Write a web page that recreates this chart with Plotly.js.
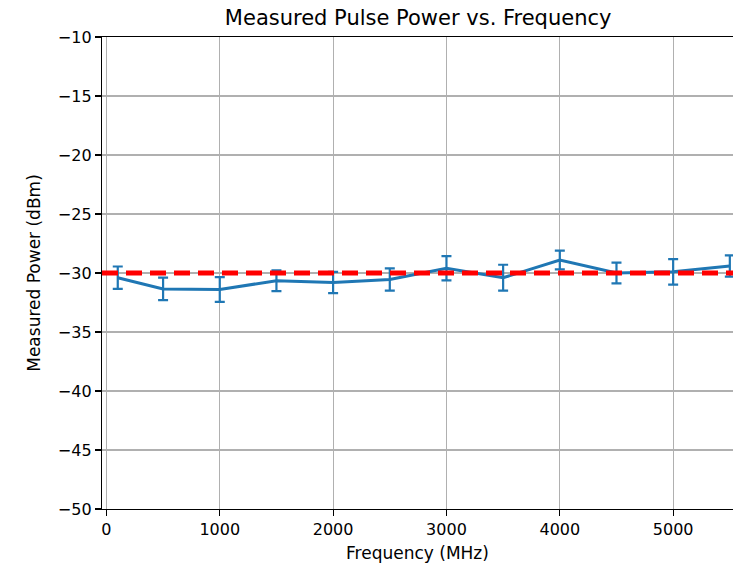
<!DOCTYPE html>
<html>
<head>
<meta charset="utf-8">
<script src="https://cdn.plot.ly/plotly-3.0.1.min.js"></script>
<style>html,body{margin:0;padding:0;background:#fff;}#chart{width:733px;height:565px;}</style>
</head>
<body>
<div id="chart"></div>
<script>
const frequencies = [100, 500, 1000, 1500, 2000, 2500, 3000, 3500, 4000, 4500, 5000, 5500];
const measuredPower = [-30.4, -31.35, -31.4, -30.65, -30.8, -30.55, -29.6, -30.4, -28.9, -30.0, -29.9, -29.4];
const powerError = [0.95, 0.95, 1.05, 0.88, 0.9, 0.95, 1.03, 1.1, 0.8, 0.88, 1.08, 0.9];
const targetPower = -30;
const yTicks = [-50, -45, -40, -35, -30, -25, -20, -15, -10];
const xTicks = [0, 1000, 2000, 3000, 4000, 5000];

const font = "DejaVu Sans, sans-serif";

const traces = [{
  x: frequencies,
  y: measuredPower,
  type: 'scatter',
  mode: 'lines',
  line: {color: '#1f77b4', width: 3},
  error_y: {type: 'data', array: powerError, visible: true, color: '#1f77b4', thickness: 2.2, width: 5},
  showlegend: false,
  hoverinfo: 'none'
}];

const layout = {
  width: 733, height: 565,
  margin: {l: 102, r: 0, t: 37, b: 56, pad: 0},
  paper_bgcolor: '#ffffff',
  plot_bgcolor: '#ffffff',
  font: {family: font, color: '#000000', size: 16},
  title: {text: 'Measured Pulse Power vs. Frequency', font: {family: font, size: 21, color: '#000'}, x: 0.5705, xanchor: 'center', y: 0.968, yanchor: 'middle'},
  xaxis: {
    range: [-39, 5528],
    tickvals: xTicks,
    ticktext: xTicks.map(String),
    showgrid: true, gridcolor: '#b0b0b0', gridwidth: 1.2,
    zeroline: false,
    showline: true, linecolor: '#000', linewidth: 1.2, mirror: true,
    ticks: 'outside', ticklen: 6, tickwidth: 1.2, tickcolor: '#000',
    tickfont: {family: font, size: 16},
    title: {text: 'Frequency (MHz)', font: {family: font, size: 17}, standoff: 8}
  },
  yaxis: {
    range: [-50, -10],
    tickvals: yTicks,
    ticktext: yTicks.map(v => '\u2212' + Math.abs(v)),
    showgrid: true, gridcolor: '#b0b0b0', gridwidth: 1.2,
    zeroline: false,
    showline: true, linecolor: '#000', linewidth: 1.2, mirror: false,
    ticks: 'outside', ticklen: 6, tickwidth: 1.2, tickcolor: '#000',
    tickfont: {family: font, size: 16},
    title: {text: 'Measured Power (dBm)', font: {family: font, size: 17}, standoff: 12}
  },
  shapes: [{
    type: 'line', xref: 'paper', x0: 0, x1: 1, yref: 'y', y0: targetPower, y1: targetPower,
    line: {color: '#ff0000', width: 5, dash: '16px,8px'}, layer: 'above'
  }]
};

Plotly.newPlot('chart', traces, layout, {displayModeBar: false, staticPlot: true});
</script>
</body>
</html>
